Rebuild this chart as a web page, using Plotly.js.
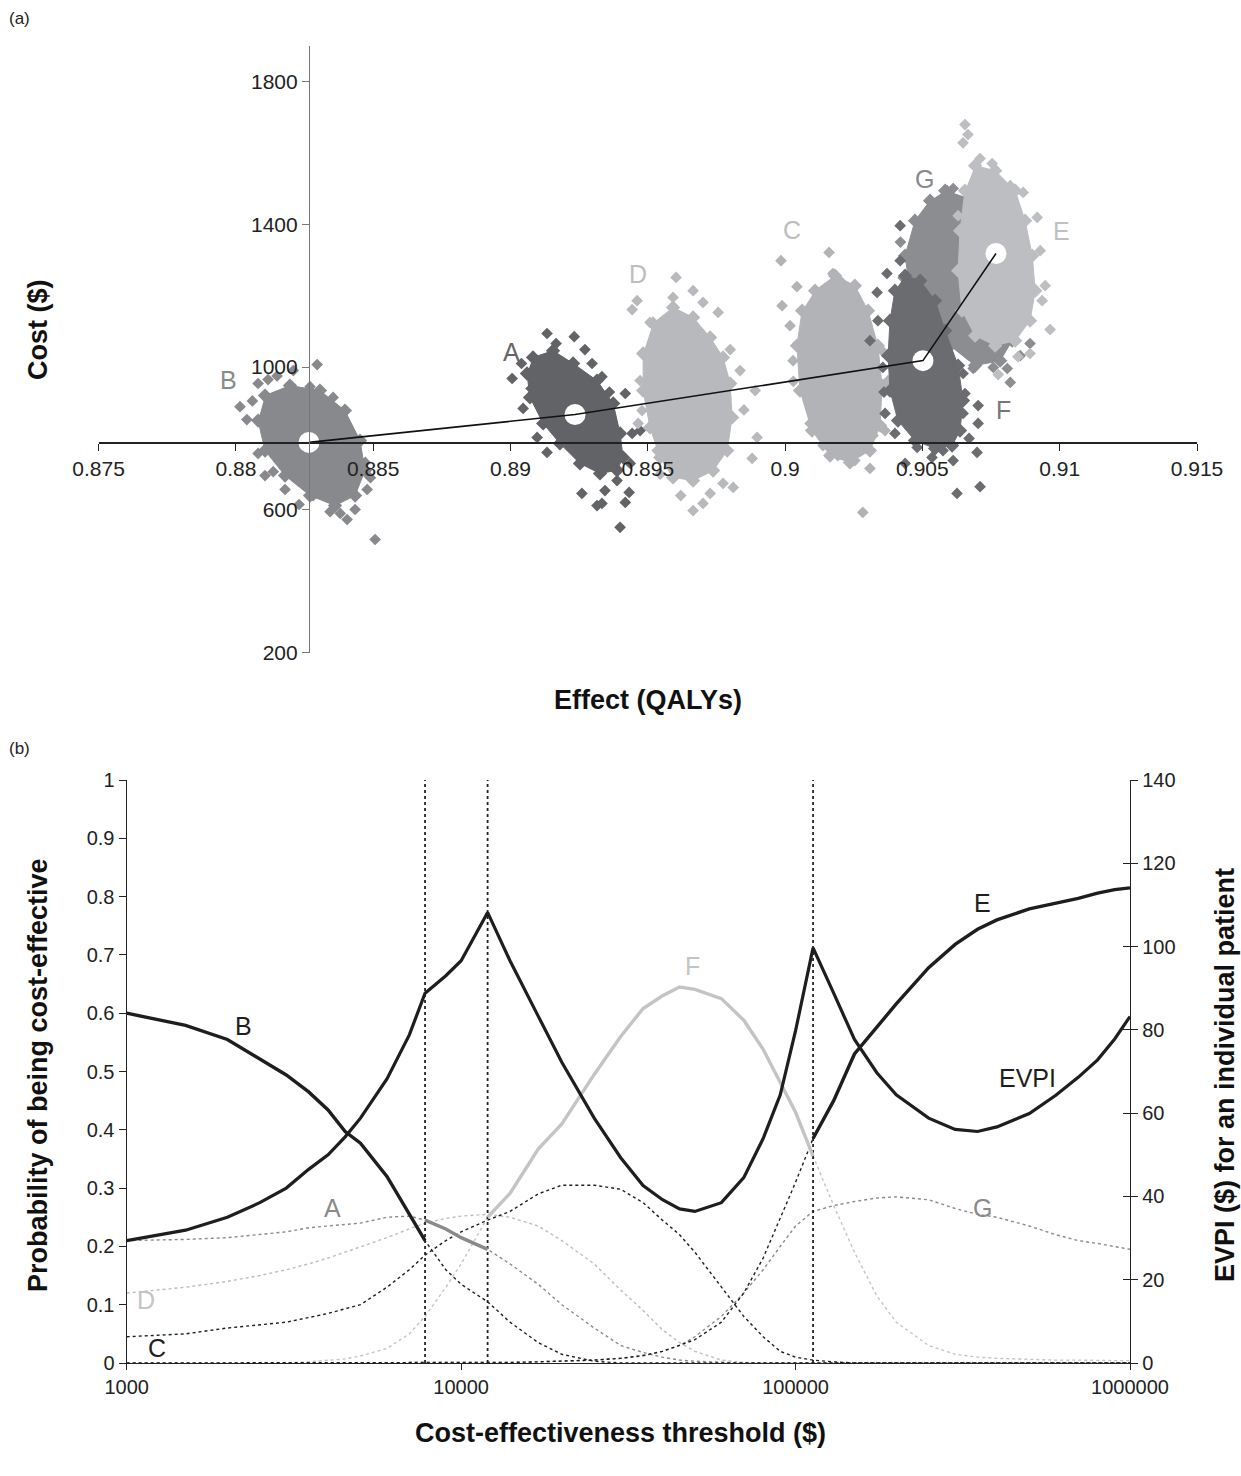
<!DOCTYPE html>
<html>
<head>
<meta charset="utf-8">
<script src="https://cdn.plot.ly/plotly-3.0.1.min.js"></script>
<style>
html,body{margin:0;padding:0;background:#fff;}
#chart{width:1241px;height:1476px;}
</style>
</head>
<body>
<div id="chart"></div>
<script>
// ---------------- Panel (a): cost-effectiveness plane ----------------
const effTickVals = [0.875,0.88,0.885,0.89,0.895,0.9,0.905,0.91,0.915];
const effTickText = ['0.875','0.88','0.885','0.89','0.895','0.9','0.905','0.91','0.915'];
const costTickVals = [200,600,1000,1400,1800];

// dense core outlines and scattered simulations per strategy
const B_coreEff = [0.88106,0.88197,0.88306,0.88397,0.88452,0.88470,0.88434,0.88361,0.88270,0.88179,0.88106,0.88081];
const B_coreCost = [920,948,934,878,794,710,640,612,640,696,766,850];
const B_ptsEff = [0.88296,0.88209,0.88117,0.88081,0.88015,0.88040,0.88354,0.88409,0.88471,0.88478,0.88434,0.88405,0.88507,0.88343,0.88179,0.88081,0.88106,0.88136,0.88281,0.88270,0.88060,0.88150,0.88490,0.88380,0.88230];
const B_ptsCost = [1007,990,965,954,889,853,915,825,733,657,601,573,517,595,657,758,696,707,640,945,905,975,690,590,615];

const A_coreEff = [0.89082,0.89155,0.89228,0.89315,0.89374,0.89399,0.89410,0.89388,0.89326,0.89253,0.89180,0.89119,0.89071,0.89060];
const A_coreCost = [1027,1046,1010,962,898,814,747,711,702,730,786,842,915,982];
const A_ptsEff = [0.89133,0.89232,0.89166,0.89271,0.89297,0.89333,0.89006,0.89046,0.89097,0.89133,0.89418,0.89472,0.89443,0.89436,0.89432,0.89399,0.89315,0.89333,0.89260,0.89344,0.89418,0.89388,0.89040,0.89075,0.89360];
const A_ptsCost = [1094,1085,1066,1049,1010,973,968,884,803,761,926,822,814,730,649,551,612,618,646,654,621,682,1010,940,930];

const D_coreEff = [0.89519,0.89592,0.89665,0.89727,0.89774,0.89800,0.89807,0.89789,0.89738,0.89665,0.89592,0.89545,0.89508,0.89483,0.89483];
const D_coreCost = [1122,1167,1139,1083,1027,954,859,766,710,682,691,747,831,934,1038];
const D_ptsEff = [0.89603,0.89461,0.89443,0.89665,0.89592,0.89701,0.89756,0.89508,0.89800,0.89836,0.89891,0.89898,0.89880,0.89774,0.89701,0.89665,0.89727,0.89811,0.89479,0.89472,0.89534,0.89465,0.89850,0.89620,0.89545];
const D_ptsCost = [1251,1186,1161,1214,1195,1181,1153,1125,1049,990,934,803,744,674,618,598,646,663,878,962,766,842,880,640,700];

const C_coreEff = [0.90109,0.90182,0.90254,0.90302,0.90338,0.90353,0.90346,0.90309,0.90236,0.90164,0.90098,0.90054,0.90043,0.90062];
const C_coreCost = [1214,1256,1228,1158,1060,948,836,766,733,752,822,934,1060,1158];
const C_ptsEff = [0.89985,0.90160,0.90043,0.89989,0.90018,0.90029,0.90091,0.90145,0.90138,0.90174,0.90200,0.90236,0.90272,0.90353,0.90375,0.90364,0.90320,0.90309,0.90254,0.90211,0.90192,0.90283,0.90153,0.90030,0.90390];
const C_ptsCost = [1298,1321,1225,1172,1116,1018,842,803,780,1262,1242,1195,1164,1046,962,822,808,716,738,786,752,593,803,960,1000];

const F_coreEff = [0.90437,0.90492,0.90546,0.90583,0.90630,0.90648,0.90637,0.90608,0.90546,0.90473,0.90411,0.90382,0.90375,0.90382,0.90400];
const F_coreCost = [1256,1242,1186,1102,1004,906,822,780,772,794,850,934,1032,1130,1214];
const F_ptsEff = [0.90419,0.90309,0.90335,0.90371,0.90419,0.90703,0.90703,0.90699,0.90710,0.90626,0.90612,0.90575,0.90535,0.90437,0.90481,0.90400,0.90364,0.90356,0.90648,0.90655,0.90648,0.90338,0.90360,0.90670];
const F_ptsCost = [1396,1074,1209,1262,1298,892,842,761,665,646,738,766,747,730,775,814,870,999,870,926,982,1130,930,800];

const G_coreEff = [0.90583,0.90692,0.90783,0.90820,0.90838,0.90827,0.90783,0.90692,0.90601,0.90510,0.90455,0.90437,0.90473,0.90528];
const G_coreCost = [1494,1466,1396,1284,1186,1074,1018,1004,1060,1130,1214,1312,1410,1466];
const G_ptsEff = [0.90612,0.90557,0.90590,0.90466,0.90535,0.90820,0.90758,0.90809,0.90685,0.90856,0.90746,0.90892,0.90502,0.90481,0.90539,0.90430,0.90420];
const G_ptsCost = [1500,1444,1494,1321,1391,957,999,996,996,1032,1027,1066,1374,1307,1458,1250,1350];

const E_coreEff = [0.90692,0.90765,0.90838,0.90874,0.90900,0.90911,0.90892,0.90838,0.90765,0.90692,0.90644,0.90630,0.90637,0.90655];
const E_coreCost = [1564,1550,1494,1410,1312,1214,1130,1074,1060,1088,1158,1270,1382,1494];
const E_ptsEff = [0.90655,0.90666,0.90648,0.90710,0.90754,0.90867,0.90820,0.90918,0.90947,0.90965,0.90892,0.90848,0.90776,0.90929,0.90936,0.90630];
const E_ptsCost = [1679,1651,1628,1584,1570,1489,1508,1419,1228,1105,1038,1029,979,1326,1186,1424];

// mean values of the non-dominated strategies (B, A, F, E)
const frontierNames = ['B','A','F','E'];
const meanEff = [0.88266,0.89235,0.90502,0.90768];
const meanCost = [789,867,1018,1318];

// ---------------- Panel (b): CEAC / CEAF / EVPI ----------------
const thr = [1000,1500,2000,2500,3000,3500,4000,4500,5000,6000,7000,7800,9000,10000,12000,14000,17000,20000,25000,30000,35000,40000,45000,50000,60000,70000,80000,90000,100000,112800,130000,150000,175000,200000,250000,300000,350000,400000,500000,600000,700000,800000,900000,1000000];
const probB = [0.600,0.579,0.555,0.522,0.494,0.465,0.434,0.397,0.377,0.320,0.256,0.210,0.16,0.135,0.105,0.07,0.035,0.015,0.003,0,0,0,0,0,0,0,0,0,0,0,0,0,0,0,0,0,0,0,0,0,0,0,0,0];
const probA = [0.21,0.212,0.215,0.22,0.225,0.232,0.235,0.238,0.24,0.25,0.252,0.245,0.23,0.215,0.195,0.17,0.135,0.1,0.06,0.03,0.018,0.01,0.005,0.003,0.001,0,0,0,0,0,0,0,0,0,0,0,0,0,0,0,0,0,0,0];
const probC = [0.045,0.05,0.06,0.065,0.07,0.078,0.085,0.093,0.1,0.13,0.16,0.185,0.21,0.225,0.245,0.26,0.29,0.305,0.305,0.298,0.275,0.245,0.22,0.19,0.13,0.08,0.045,0.02,0.01,0.005,0.002,0,0,0,0,0,0,0,0,0,0,0,0,0];
const probD = [0.12,0.13,0.14,0.15,0.16,0.17,0.18,0.19,0.2,0.215,0.23,0.24,0.248,0.252,0.255,0.25,0.235,0.21,0.17,0.125,0.09,0.057,0.035,0.02,0.005,0.001,0,0,0,0,0,0,0,0,0,0,0,0,0,0,0,0,0,0];
const probE = [0,0,0,0,0,0,0,0,0,0,0,0,0,0,0,0.001,0.002,0.003,0.005,0.008,0.013,0.02,0.03,0.04,0.07,0.12,0.18,0.25,0.31,0.385,0.45,0.53,0.577,0.616,0.678,0.718,0.744,0.76,0.779,0.789,0.797,0.806,0.812,0.815];
const probF = [0,0,0,0,0,0.002,0.004,0.007,0.012,0.025,0.05,0.08,0.13,0.17,0.25,0.291,0.367,0.41,0.495,0.56,0.608,0.63,0.645,0.641,0.625,0.588,0.538,0.48,0.43,0.355,0.27,0.19,0.115,0.07,0.03,0.015,0.01,0.008,0.006,0.005,0.005,0.004,0.004,0.004];
const probG = [0,0,0,0,0,0,0,0,0,0,0,0,0,0,0,0.001,0.002,0.003,0.005,0.008,0.012,0.02,0.03,0.045,0.08,0.12,0.16,0.2,0.235,0.26,0.27,0.277,0.283,0.285,0.28,0.265,0.255,0.25,0.235,0.22,0.21,0.205,0.2,0.195];
const evpi = [29.4,31.9,35,38.5,42,46.5,50,54.3,58.8,68.2,78.8,88.8,93,96.6,108.2,96.6,83.3,72.2,58.8,49.3,42.6,39.2,37,36.4,38.5,44.5,53.9,64.4,79.8,99.7,88.8,77.7,69.7,64.4,58.8,56.1,55.6,56.7,59.9,64.3,68.6,72.8,77.8,83.2];
// thresholds at which the optimal strategy changes (B -> A -> F -> E)
const switchThr = [7800,12000,112800];
const probTickVals = [0,0.1,0.2,0.3,0.4,0.5,0.6,0.7,0.8,0.9,1];
const probTickText = ['0','0.1','0.2','0.3','0.4','0.5','0.6','0.7','0.8','0.9','1'];
const evpiTickVals = [0,20,40,60,80,100,120,140];
const thrTickVals = [1000,10000,100000,1000000];
const thrTickText = ['1000','10000','100000','1000000'];

// ---------------- layout helpers ----------------
const W = 1241, H = 1476;
const FONT = 'Liberation Sans, Arial, Helvetica, sans-serif';
const px = v => v / W;
const py = v => 1 - v / H;

const topX = [px(98.6), px(1197)];
const topY = [py(652.7), py(45.7)];
const effRange = [0.875, 0.915];
const costRange = [200, 1900];
const xCrossPos = topY[0] + (meanCost[0] - costRange[0]) / (costRange[1] - costRange[0]) * (topY[1] - topY[0]);
const yCrossPos = topX[0] + (meanEff[0] - effRange[0]) / (effRange[1] - effRange[0]) * (topX[1] - topX[0]);

const botX = [px(126.7), px(1130)];
const botY = [py(1363), py(780)];

const traces = [];
function cloud(coreE, coreC, ptsE, ptsC, color) {
  traces.push({
    type: 'scatter', x: coreE, y: coreC, xaxis: 'x', yaxis: 'y',
    mode: 'lines+markers', fill: 'toself', fillcolor: color,
    line: {color: color, width: 1},
    marker: {symbol: 'diamond', size: 11, color: color, line: {width: 0}},
    hoverinfo: 'skip'
  });
  traces.push({
    type: 'scatter', x: ptsE, y: ptsC, xaxis: 'x', yaxis: 'y',
    mode: 'markers',
    marker: {symbol: 'diamond', size: 9, color: color, line: {width: 0}},
    hoverinfo: 'skip'
  });
}
cloud(B_coreEff, B_coreCost, B_ptsEff, B_ptsCost, '#88898c');
cloud(A_coreEff, A_coreCost, A_ptsEff, A_ptsCost, '#626366');
cloud(D_coreEff, D_coreCost, D_ptsEff, D_ptsCost, '#b8b9bc');
cloud(C_coreEff, C_coreCost, C_ptsEff, C_ptsCost, '#b2b3b6');
cloud(G_coreEff, G_coreCost, G_ptsEff, G_ptsCost, '#8c8d90');
cloud(F_coreEff, F_coreCost, F_ptsEff, F_ptsCost, '#6b6c6f');
cloud(E_coreEff, E_coreCost, E_ptsEff, E_ptsCost, '#bdbec1');

traces.push({
  type: 'scatter', x: meanEff, y: meanCost, xaxis: 'x', yaxis: 'y', mode: 'markers',
  marker: {symbol: 'circle', size: 21, color: '#ffffff', line: {width: 0}}, hoverinfo: 'skip'
});
traces.push({
  type: 'scatter', x: meanEff, y: meanCost, xaxis: 'x', yaxis: 'y', mode: 'lines',
  line: {color: '#111', width: 1.6}, hoverinfo: 'skip'
});

// panel (b)
const curveStyle = {
  B: {arr: probB, color: '#1e1e1e'},
  A: {arr: probA, color: '#8a8a8a'},
  C: {arr: probC, color: '#1e1e1e'},
  D: {arr: probD, color: '#bdbdbd'},
  E: {arr: probE, color: '#1e1e1e'},
  F: {arr: probF, color: '#c4c4c4'},
  G: {arr: probG, color: '#8a8a8a'}
};
['G','D','A','C','B','F','E'].forEach(k => {
  traces.push({
    type: 'scatter', x: thr, y: curveStyle[k].arr, xaxis: 'x2', yaxis: 'y2', mode: 'lines',
    line: {color: curveStyle[k].color, width: 1.4, dash: 'dot'}, hoverinfo: 'skip'
  });
});
// vertical dotted lines at switch points
switchThr.forEach(t => {
  traces.push({
    type: 'scatter', x: [t, t], y: [0, 1], xaxis: 'x2', yaxis: 'y2', mode: 'lines',
    line: {color: '#222', width: 1.8, dash: 'dot'}, hoverinfo: 'skip'
  });
});
// CEAF solid segments
const bounds = [thr[0]].concat(switchThr).concat([thr[thr.length - 1]]);
frontierNames.forEach((k, i) => {
  const xs = [], ys = [];
  thr.forEach((t, j) => {
    if (t >= bounds[i] && t <= bounds[i + 1]) { xs.push(t); ys.push(curveStyle[k].arr[j]); }
  });
  traces.push({
    type: 'scatter', x: xs, y: ys, xaxis: 'x2', yaxis: 'y2', mode: 'lines',
    line: {color: curveStyle[k].color, width: 3.4}, hoverinfo: 'skip'
  });
});
// EVPI on the right axis
traces.push({
  type: 'scatter', x: thr, y: evpi, xaxis: 'x2', yaxis: 'y3', mode: 'lines',
  line: {color: '#1e1e1e', width: 3.2}, hoverinfo: 'skip'
});

const tickFontTop = {family: FONT, size: 21, color: '#222'};
const tickFontBot = {family: FONT, size: 20, color: '#222'};

function ann(text, x, y, size, color, extra) {
  return Object.assign({
    text: text, xref: 'paper', yref: 'paper', x: px(x), y: py(y),
    xanchor: 'center', yanchor: 'middle', showarrow: false,
    font: {family: FONT, size: size, color: color}
  }, extra || {});
}

const annotations = [
  ann('(a)', 20, 18, 17, '#222'),
  ann('(b)', 20, 748, 17, '#222'),
  // cloud labels
  ann('B', 228, 380, 25, '#8a8a8a'),
  ann('A', 511, 352, 25, '#666666'),
  ann('D', 638, 274, 25, '#bdbdbd'),
  ann('C', 792, 230, 25, '#bdbdbd'),
  ann('G', 924, 179, 25, '#8a8a8a'),
  ann('E', 1061, 231, 25, '#c0c0c0'),
  ann('F', 1003, 410, 25, '#777777'),
  // curve labels
  ann('B', 243, 1026, 25, '#1e1e1e'),
  ann('A', 332, 1208, 25, '#8a8a8a'),
  ann('D', 146, 1300, 25, '#c4c4c4'),
  ann('C', 157, 1348, 25, '#1e1e1e'),
  ann('F', 692, 966, 25, '#c4c4c4'),
  ann('E', 982, 903, 25, '#1e1e1e'),
  ann('EVPI', 1027, 1078, 25, '#1e1e1e'),
  ann('G', 983, 1208, 25, '#8a8a8a'),
  // axis titles
  ann('<b>Cost ($)</b>', 38, 330, 27, '#111', {textangle: -90}),
  ann('<b>Effect (QALYs)</b>', 648, 700, 27, '#111'),
  ann('<b>Probability of being cost-effective</b>', 38, 1075, 27, '#111', {textangle: -90}),
  ann('<b>EVPI ($) for an individual patient</b>', 1225, 1075, 27, '#111', {textangle: -90}),
  ann('<b>Cost-effectiveness threshold ($)</b>', 620, 1433, 27, '#111')
];

const layout = {
  width: W, height: H,
  margin: {l: 0, r: 0, t: 0, b: 0},
  paper_bgcolor: '#ffffff', plot_bgcolor: 'rgba(0,0,0,0)',
  showlegend: false,
  font: {family: FONT, color: '#222'},
  xaxis: {
    domain: topX, range: effRange, anchor: 'free', position: xCrossPos,
    tickvals: effTickVals, ticktext: effTickText, ticks: 'outside', ticklen: 7, tickcolor: '#222',
    showline: true, linecolor: '#222', linewidth: 1.2, showgrid: false, zeroline: false,
    tickfont: tickFontTop
  },
  yaxis: {
    domain: topY, range: costRange, anchor: 'free', position: yCrossPos,
    tickvals: costTickVals, ticks: 'outside', ticklen: 7, tickcolor: '#777',
    showline: true, linecolor: '#777', linewidth: 1.2, showgrid: false, zeroline: false,
    tickfont: tickFontTop
  },
  xaxis2: {
    domain: botX, type: 'log', range: [3, 6], anchor: 'y2',
    tickvals: thrTickVals, ticktext: thrTickText, ticks: 'outside', ticklen: 6, tickcolor: '#222',
    showline: true, linecolor: '#222', linewidth: 1.2, showgrid: false, zeroline: false,
    tickfont: tickFontBot
  },
  yaxis2: {
    domain: botY, range: [0, 1], anchor: 'x2',
    tickvals: probTickVals, ticktext: probTickText, ticks: 'outside', ticklen: 7, tickcolor: '#222',
    showline: true, linecolor: '#222', linewidth: 1.2, showgrid: false, zeroline: false,
    tickfont: tickFontBot
  },
  yaxis3: {
    domain: botY, range: [0, 140], anchor: 'x2', overlaying: 'y2', side: 'right',
    tickvals: evpiTickVals, ticks: 'outside', ticklen: 7, tickcolor: '#222',
    showline: true, linecolor: '#222', linewidth: 1.2, showgrid: false, zeroline: false,
    tickfont: tickFontBot
  },
  yaxis4: {
    domain: botY, range: [0, 140], anchor: 'x2', overlaying: 'y2', side: 'right',
    tickvals: evpiTickVals, ticks: 'inside', ticklen: 7, tickcolor: '#222',
    showticklabels: false, showline: false, showgrid: false, zeroline: false
  },
  annotations: annotations
};

// invisible companion trace so the inner half of the crossing EVPI ticks is drawn
traces.push({
  type: 'scatter', x: thr, y: evpi, xaxis: 'x2', yaxis: 'y4', mode: 'lines',
  line: {color: 'rgba(0,0,0,0)', width: 0}, hoverinfo: 'skip'
});

Plotly.newPlot('chart', traces, layout, {displayModeBar: false, staticPlot: true});
</script>
</body>
</html>
